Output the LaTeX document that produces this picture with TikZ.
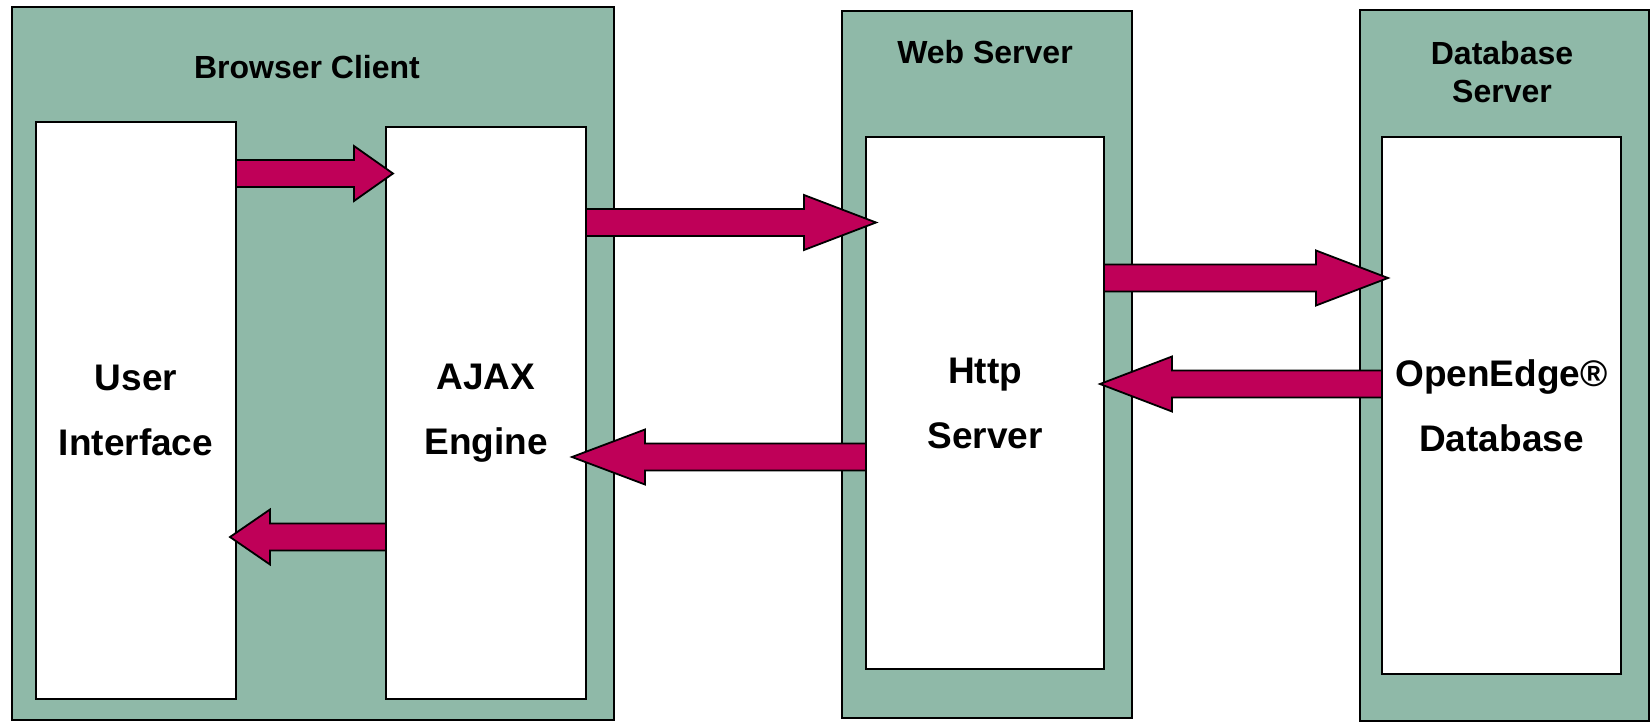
\documentclass[tikz,border=0pt]{standalone}
\usepackage{fontspec}
\setmainfont{Liberation Sans}
\usetikzlibrary{calc}

\definecolor{panelgreen}{RGB}{143,185,168}
\definecolor{arrowred}{RGB}{191,0,88}

\tikzset{
    panel/.style={draw, line width=2pt, fill=panelgreen, outer sep=0pt, inner sep=0pt},
    slot/.style={draw, line width=2pt, fill=white, outer sep=0pt, inner sep=0pt, align=center,
        font=\bfseries\fontsize{37}{65}\selectfont},
    title/.style={inner sep=0pt, align=center, font=\bfseries\fontsize{32}{38}\selectfont},
    fat/.style={draw, line width=1.8pt, fill=arrowred, line join=miter},
}

% block arrow: tail, tip, signed head length
\newcommand{\fatarrow}[3]{%
    \draw[fat] let \p1=(#1), \p2=(#2) in
        (\x1,\y1+13.5pt) -- ({\x2-(#3)},\y1+13.5pt) -- ({\x2-(#3)},\y1+27.5pt)
        -- (\x2,\y1) -- ({\x2-(#3)},\y1-27.5pt) -- ({\x2-(#3)},\y1-13.5pt)
        -- (\x1,\y1-13.5pt) -- cycle;}

\begin{document}
\begin{tikzpicture}[x=1pt,y=-1pt]
    \useasboundingbox (0,0) rectangle (1652,723);

    \node [panel, minimum width=602, minimum height=713] (browser) at (313,363.5) {};
    \node [panel, minimum width=290, minimum height=707] (web) at (987,364.5) {};
    \node [panel, minimum width=289, minimum height=711] (dbserver) at (1504.5,365.5) {};

    \node [title, anchor=base] (browsertitle) at (307,78) {Browser Client};
    \node [title, anchor=base] (webtitle) at (985,63) {Web Server};
    \node [title, anchor=north] (dbtitle) at (1502,41) {Database\\Server};

    \node [slot, minimum width=200, minimum height=577] (ui) at (136,410.5) {User\\Interface};
    \node [slot, minimum width=200, minimum height=572] (ajax) at (486,413) {AJAX\\Engine};
    \node [slot, minimum width=238, minimum height=532] (http) at (985,403) {Http\\Server};
    \node [slot, minimum width=239, minimum height=537] (oedb) at (1501.5,405.5) {OpenEdge®\\Database};

    \fatarrow{ui.east |- 0,173.5}{$(ajax.west |- 0,173.5)+(7,0)$}{39pt}
    \fatarrow{ajax.east |- 0,222.5}{$(http.west |- 0,222.5)+(10,0)$}{72pt}
    \fatarrow{http.east |- 0,278}{$(oedb.west |- 0,278)+(6,0)$}{72pt}
    \fatarrow{oedb.west |- 0,384}{$(http.east |- 0,384)+(-4,0)$}{-72pt}
    \fatarrow{http.west |- 0,457}{$(ajax.east |- 0,457)+(-14,0)$}{-73pt}
    \fatarrow{ajax.west |- 0,537}{$(ui.east |- 0,537)+(-6,0)$}{-40pt}
\end{tikzpicture}
\end{document}
